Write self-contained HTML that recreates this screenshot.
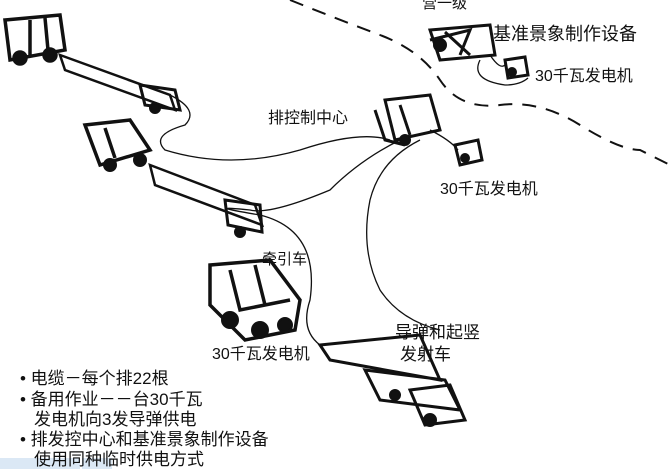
<!DOCTYPE html>
<html><head><meta charset="utf-8"><style>
body{margin:0;width:670px;height:469px;background:#fff;overflow:hidden;font-family:"Liberation Sans","Noto Sans CJK SC",sans-serif}
svg{position:absolute;left:0;top:0}
.t{position:absolute;color:#111;white-space:nowrap;font-family:"Liberation Sans","Noto Sans CJK SC",sans-serif}
</style></head><body>
<svg width="670" height="469" viewBox="0 0 670 469" fill="none" stroke="#111" stroke-width="2">
<path d="M290 0 Q340 20 380 35 T440 80 T500 105 T580 125 T640 150 L670 165" stroke-dasharray="14 10"/>
<!-- top-left truck -->
<g stroke-width="3.5"><path d="M5 20 L60 15 L65 50 L10 60 Z"/><path d="M30 20 L30 55 M45 18 L48 50"/><circle cx="20" cy="58" r="6" fill="#111"/><circle cx="50" cy="55" r="6" fill="#111"/></g>
<path d="M60 55 L170 95 L175 110 L65 70 Z" stroke-width="2.5"/><path d="M140 85 L175 90 L180 110 L145 105 Z" stroke-width="3"/><circle cx="155" cy="108" r="5" fill="#111"/>
<!-- second truck -->
<path d="M85 125 L130 120 L150 150 L100 165 Z M105 128 L115 158" stroke-width="3.5"/><circle cx="110" cy="165" r="6" fill="#111"/><circle cx="140" cy="160" r="6" fill="#111"/>
<path d="M150 165 L255 205 L262 225 L155 185 Z" stroke-width="2.5"/><path d="M225 200 L260 205 L262 232 L228 225 Z" stroke-width="3"/><circle cx="240" cy="232" r="5" fill="#111"/>
<!-- control center -->
<path d="M385 100 L430 95 L440 130 L395 140 Z M375 110 L385 140 L405 145 M400 105 L410 135" stroke-width="3"/><circle cx="405" cy="140" r="5" fill="#111"/>
<path d="M455 145 L478 140 L482 160 L460 165 Z" stroke-width="3"/><circle cx="465" cy="158" r="4" fill="#111"/>
<!-- reference eqp -->
<path d="M430 30 L490 25 L495 55 L440 60 Z M430 40 L470 30 L460 55 M445 32 L470 55" stroke-width="3"/><circle cx="440" cy="45" r="6" fill="#111"/>
<path d="M505 60 L525 57 L528 75 L508 78 Z" stroke-width="3"/><circle cx="512" cy="72" r="4" fill="#111"/>
<!-- tractor -->
<path d="M210 265 L270 260 L300 300 L295 330 L245 340 L210 305 Z M230 270 L240 310 L290 300 M255 265 L265 305" stroke-width="3.5"/>
<circle cx="230" cy="320" r="8" fill="#111"/><circle cx="260" cy="330" r="8" fill="#111"/><circle cx="285" cy="325" r="7" fill="#111"/>
<!-- launcher -->
<path d="M320 345 L420 335 L440 380 L330 360 Z M365 370 L445 380 L460 410 L380 400 Z M410 390 L450 385 L465 420 L425 425 Z" stroke-width="3"/>
<circle cx="430" cy="420" r="6" fill="#111"/><circle cx="395" cy="395" r="5" fill="#111"/>
<!-- cables -->
<path d="M170 95 Q200 110 185 125 Q150 135 165 150 Q230 170 300 150 Q360 130 390 140" stroke-width="1.3"/>
<path d="M400 140 Q360 160 330 190 Q270 215 250 210 Q200 205 260 215 Q320 230 310 300 Q300 330 320 345" stroke-width="1.3"/>
<path d="M420 140 Q380 160 370 200 Q360 250 380 290 Q400 320 440 330" stroke-width="1.3"/>
<path d="M430 130 Q450 140 458 150" stroke-width="1.3"/>
<path d="M490 55 Q500 70 505 65 M480 60 Q470 80 505 85 Q520 85 528 78" stroke-width="1.3"/>
<rect x="0" y="458" width="80" height="11" fill="#dbe8f5" stroke="none"/><rect x="82" y="458" width="30" height="11" fill="#dbe8f5" stroke="none"/>
</svg>
<div class="t" style="left:422px;top:-8px;font-size:15px">营一级</div>
<div class="t" style="left:493px;top:20px;font-size:18px">基准景象制作设备</div>
<div class="t" style="left:535px;top:62px;font-size:16px">30千瓦发电机</div>
<div class="t" style="left:268px;top:104px;font-size:16px">排控制中心</div>
<div class="t" style="left:440px;top:175px;font-size:16px">30千瓦发电机</div>
<div class="t" style="left:262px;top:248px;font-size:15px">牵引车</div>
<div class="t" style="left:212px;top:340px;font-size:16px">30千瓦发电机</div>
<div class="t" style="left:395px;top:318px;font-size:17px">导弹和起竖</div>
<div class="t" style="left:400px;top:340px;font-size:17px">发射车</div>
<div class="t" style="left:20px;top:364px;font-size:17px">• 电缆－每个排22根</div>
<div class="t" style="left:20px;top:385px;font-size:17px">• 备用作业－－台30千瓦</div>
<div class="t" style="left:34px;top:405px;font-size:17px">发电机向3发导弹供电</div>
<div class="t" style="left:20px;top:425px;font-size:17px">• 排发控中心和基准景象制作设备</div>
<div class="t" style="left:34px;top:445px;font-size:17px">使用同种临时供电方式</div>
</body></html>
